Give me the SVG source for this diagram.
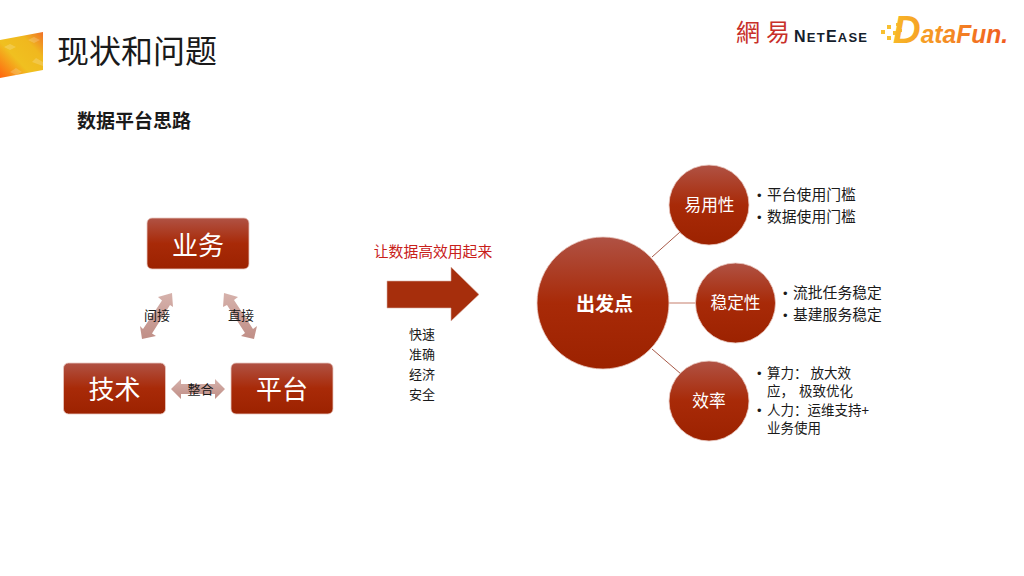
<svg xmlns="http://www.w3.org/2000/svg" width="1024" height="576" viewBox="0 0 1024 576">
<style>
text{font-family:"Noto Sans CJK SC","Liberation Sans",sans-serif}
.w{fill:#fff;text-anchor:middle}
.b{font-size:16.700px;fill:#fff;text-anchor:middle}
.l{font-size:14.800px;fill:#1a1a1a}
.m{font-size:13.500px;fill:#1a1a1a}
.c{font-size:13px;fill:#1a1a1a;text-anchor:middle}
.bu{font-family:"Liberation Sans",sans-serif;font-size:13px}
.node{fill:url(#red);stroke:#e8c8c0;stroke-width:.8}
.da{fill:url(#pink)}
.con{stroke:#a85a48;fill:none}
.lat{font-family:"Liberation Sans",sans-serif}
</style>
<defs>
<linearGradient id="red" x1="0" y1="0" x2="0" y2="1"><stop offset="0" stop-color="#b05244"/><stop offset=".5" stop-color="#a82a08"/><stop offset="1" stop-color="#9c2200"/></linearGradient>
<linearGradient id="pink" x1="0" y1="0" x2="0" y2="1"><stop offset="0" stop-color="#d6b2ac"/><stop offset="1" stop-color="#c08e86"/></linearGradient>
<linearGradient id="ban" x1="0" y1="1" x2="1" y2="0"><stop offset="0" stop-color="#ff6410"/><stop offset=".4" stop-color="#f0c020"/><stop offset=".72" stop-color="#f0b81e"/><stop offset="1" stop-color="#f07028"/></linearGradient>
<linearGradient id="df" x1="0" y1="0" x2="1" y2="0"><stop offset="0" stop-color="#f8b828"/><stop offset="1" stop-color="#f05a20"/></linearGradient>
</defs>

<g id="header">
<polygon points="0,40 43,32 43,70 0,78" fill="url(#ban)"/>
<g fill="#fff" opacity=".18"><polygon points="10,44 16,47 10,50 4,47"/><polygon points="34,37 40,40 34,43 28,40"/><polygon points="16,68 22,72 16,75 10,72"/><polygon points="36,58 43,62 43,66 32,62"/></g>
<text x="57" y="63" font-size="32" fill="#1a1a1a">现状和问题</text>
<text x="77" y="128" font-size="19" font-weight="700" fill="#1a1a1a">数据平台思路</text>
</g>

<g id="logos">
<text x="736" y="41" font-size="24" fill="#c8302a">網</text>
<text x="766" y="41" font-size="24" fill="#c8302a">易</text>
<text x="794" y="42" font-weight="700" fill="#14202c" class="lat" style="font-family:'Liberation Sans',sans-serif" textLength="73" lengthAdjust="spacing"><tspan font-size="16">N</tspan><tspan font-size="13">ET</tspan><tspan font-size="16">E</tspan><tspan font-size="13">ASE</tspan></text>
<g fill="#f8c030"><rect x="881" y="30" width="4" height="4"/><rect x="887" y="25" width="4" height="4"/><rect x="887" y="36" width="4" height="4"/><rect x="893" y="31" width="4" height="4"/><rect x="896" y="23" width="3" height="3"/><rect x="899" y="29" width="3" height="3"/><rect x="895" y="38" width="3" height="3"/></g>
<text x="893" y="43" font-weight="700" font-style="italic" fill="url(#df)" textLength="115" lengthAdjust="spacingAndGlyphs" style="font-family:'Liberation Sans',sans-serif"><tspan font-size="39">D</tspan><tspan font-size="25">ataFun.</tspan></text>
</g>

<g id="connectors">
<line class="con" x1="652" y1="257" x2="680" y2="232"/>
<line class="con" x1="669" y1="303" x2="696" y2="303" stroke-width="1.500" style="stroke:#d8a89c"/>
<line class="con" x1="652" y1="349" x2="681" y2="374"/>
</g>

<g id="node-yewu"><rect class="node" x="147" y="218" width="102" height="51" rx="5"/><text class="w" x="198" y="255" font-size="26">业务</text></g>
<g id="node-jishu"><rect class="node" x="63.500" y="363" width="102" height="51" rx="5"/><text class="w" x="114.500" y="399" font-size="26">技术</text></g>
<g id="node-pingtai"><rect class="node" x="231" y="363" width="102" height="51" rx="5"/><text class="w" x="282" y="399" font-size="26">平台</text></g>

<g id="arrow-jianjie"><polygon class="da" points="172,293 158,297 162,300.500 143,329 140,326 142,339 156,336 152,333.500 170,305 173,307"/><text class="c" x="157" y="320">间接</text></g>
<g id="arrow-zhijie"><polygon class="da" points="224,293 238,297 234,300 253,329 257,326 254,339 241,336 245,333 227,305 223,307"/><text class="c" x="241" y="320">直接</text></g>
<g id="arrow-zhenghe"><polygon class="da" points="171,389 181,379 181,384 215,384 215,379 225,389 215,399 215,394 181,394 181,399"/><text class="c" x="200.500" y="394">整合</text></g>

<g id="label-goal"><text x="433" y="257" font-size="14.800" fill="#c8201a" text-anchor="middle">让数据高效用起来</text></g>
<g id="big-arrow"><polygon points="387,281 451,281 451,267 479,294.500 451,321 451,308 387,308" fill="#a62e0c" stroke="#d8b0a4" stroke-width=".6"/></g>
<g id="label-qualities">
<text class="c" x="422" y="339">快速</text>
<text class="c" x="422" y="359">准确</text>
<text class="c" x="422" y="379">经济</text>
<text class="c" x="422" y="399">安全</text>
</g>

<g id="node-start"><circle class="node" cx="603" cy="303" r="66"/><text class="w" x="604.500" y="311" font-size="19" font-weight="700">出发点</text></g>
<g id="node-ease"><circle class="node" cx="709" cy="205" r="40"/><text class="b" x="709.500" y="211">易用性</text></g>
<g id="node-stable"><circle class="node" cx="735.500" cy="303" r="40"/><text class="b" x="735.500" y="308.500">稳定性</text></g>
<g id="node-eff"><circle class="node" cx="709" cy="401" r="40"/><text class="b" x="709" y="406.500">效率</text></g>

<g id="list-ease">
<text class="l" y="200"><tspan class="bu" x="757">•</tspan><tspan x="767">平台使用门槛</tspan></text>
<text class="l" y="222"><tspan class="bu" x="757">•</tspan><tspan x="767">数据使用门槛</tspan></text>
</g>
<g id="list-stable">
<text class="l" y="298"><tspan class="bu" x="783">•</tspan><tspan x="793">流批任务稳定</tspan></text>
<text class="l" y="320"><tspan class="bu" x="783">•</tspan><tspan x="793">基建服务稳定</tspan></text>
</g>
<g id="list-eff">
<text class="m" y="378"><tspan class="bu" x="757">•</tspan><tspan x="767">算力： 放大效</tspan></text>
<text class="m" x="767" y="396" word-spacing="2">应， 极致优化</text>
<text class="m" y="415"><tspan class="bu" x="757">•</tspan><tspan x="767">人力：运维支持+</tspan></text>
<text class="m" x="767" y="433">业务使用</text>
</g>
</svg>
